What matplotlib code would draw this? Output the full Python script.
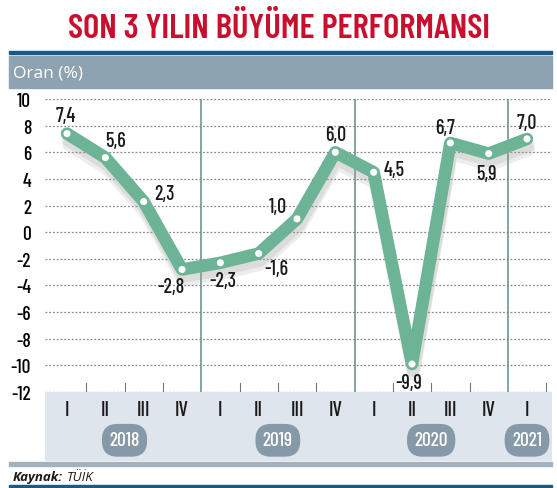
import matplotlib.pyplot as plt
import matplotlib.patheffects as pe
from matplotlib.patches import Rectangle

# Data
quarters = ['I', 'II', 'III', 'IV', 'I', 'II', 'III', 'IV', 'I', 'II', 'III', 'IV', 'I']
growth = [7.4, 5.6, 2.3, -2.8, -2.3, -1.6, 1.0, 6.0, 4.5, -9.9, 6.7, 5.9, 7.0]
labels = ['7,4', '5,6', '2,3', '-2,8', '-2,3', '-1,6', '1,0', '6,0', '4,5', '-9,9', '6,7', '5,9', '7,0']
years = ['2018', '2019', '2020', '2021']
year_pos = [1.5, 5.5, 9.5, 12]
# label offsets (points)
offsets = [(-1, 13), (7, 12), (15, 6), (-8, -12), (2, -13), (13, -11), (-14, 9),
           (0, 13), (15, 2), (-2, -13), (-4, 11), (-2, -14), (0, 12)]

narrow = ['Barlow Condensed', 'Archivo Narrow', 'DejaVu Sans']
sans = ['Open Sans', 'DejaVu Sans']
green = '#6db496'

fig = plt.figure(figsize=(5.57, 4.89), dpi=100)
W, H = 557, 489


def fx(px):
    return px / W


def fy(py):
    return 1 - py / H


# title and header
fig.text(0.5, fy(29), 'SON 3 YILIN BÜYÜME PERFORMANSI', ha='center', va='center',
         color='#c8102e', fontsize=25, fontweight='semibold', family=narrow)
fig.add_artist(Rectangle((fx(9), fy(55)), fx(543), 3 / H, color='#1c5a85', transform=fig.transFigure))
fig.add_artist(Rectangle((fx(9), fy(89)), fx(543), 32 / H, color='#8da3b1', transform=fig.transFigure))
fig.text(fx(13), fy(73), 'Oran (%)', ha='left', va='center', color='white', fontsize=12.5, family=sans)

# main plot
ax = fig.add_axes([fx(45), fy(393), fx(507), (393 - 100) / H])
x = list(range(len(growth)))
ax.set_xlim(-0.574, 12.652)
ax.set_ylim(-12, 10)
for y in range(-12, 11, 2):
    ax.axhline(y, color='#8a8a8a', lw=0.9, ls=(0, (1.5, 1.5)), zorder=1)
for sx in [3.5, 7.5, 11.5]:
    ax.axvline(sx, color='#6f9590', lw=1.2, zorder=1)
for t in [0.5, 1.5, 2.5, 4.5, 5.5, 6.5, 8.5, 9.5, 10.5, 12.5]:
    ax.plot([t, t], [-12, -11.3], color='#777777', lw=0.8, zorder=1)

ax.plot(x, growth, color=green, lw=9, solid_joinstyle='round', solid_capstyle='round', zorder=3,
        path_effects=[pe.SimpleLineShadow(offset=(1, -8), shadow_color='#a0a0a0', alpha=0.18),
                      pe.SimpleLineShadow(offset=(1, -5), shadow_color='#a0a0a0', alpha=0.22),
                      pe.Normal()])
ax.scatter(x, growth, s=26, color='white', edgecolor='none', zorder=4)
for xi, yi, lab, off in zip(x, growth, labels, offsets):
    ax.annotate(lab, (xi, yi), xytext=off, textcoords='offset points', ha='center', va='center',
                fontsize=14.5, fontweight='medium', family=narrow, color='#1a1a1a', zorder=5)

ax.set_yticks(range(-12, 11, 2))
ax.set_yticklabels([str(v) for v in range(-12, 11, 2)], family=narrow, fontsize=14,
                   fontweight='medium')
ax.tick_params(axis='y', length=0, pad=10)
ax.set_xticks([])
for s in ax.spines.values():
    s.set_visible(False)

# bottom band with quarters and years
bx = fig.add_axes([fx(45), fy(462), fx(507), (462 - 393) / H])
bx.set_xlim(ax.get_xlim())
bx.set_ylim(0, 1)
bx.set_facecolor('#dfe5ec')
for s in bx.spines.values():
    s.set_visible(False)
bx.set_xticks([])
bx.set_yticks([])
for xi, q in zip(x, quarters):
    bx.text(xi, 0.74, q, ha='center', va='center', fontsize=15, fontweight='medium',
            family=narrow, color='#1a1a1a')
for yp, yr in zip(year_pos, years):
    bx.text(yp, 0.3, yr, ha='center', va='center', fontsize=14, fontweight='medium',
            family=narrow, color='white',
            bbox=dict(boxstyle='round,pad=0.38,rounding_size=0.8', fc='#8599a8', ec='none'))

# footer
fig.add_artist(Rectangle((fx(9), fy(467)), fx(543), 4 / H, color='#a3b1bb', transform=fig.transFigure))
k = fig.text(fx(13), fy(478), 'Kaynak:', ha='left', va='center', fontsize=9.5, fontweight='bold',
             style='italic', color='#1a1a1a', family=sans)
fig.add_artist(plt.Annotation('TÜİK', xy=(1, 0.5), xycoords=k, xytext=(3, 0),
                              textcoords='offset points', va='center', fontsize=9.5,
                              style='italic', color='#1a1a1a', family=sans))
fig.add_artist(Rectangle((fx(9), fy(489)), fx(543), 3 / H, color='#1c5a85', transform=fig.transFigure))

fig.savefig('out.png', dpi=100)
